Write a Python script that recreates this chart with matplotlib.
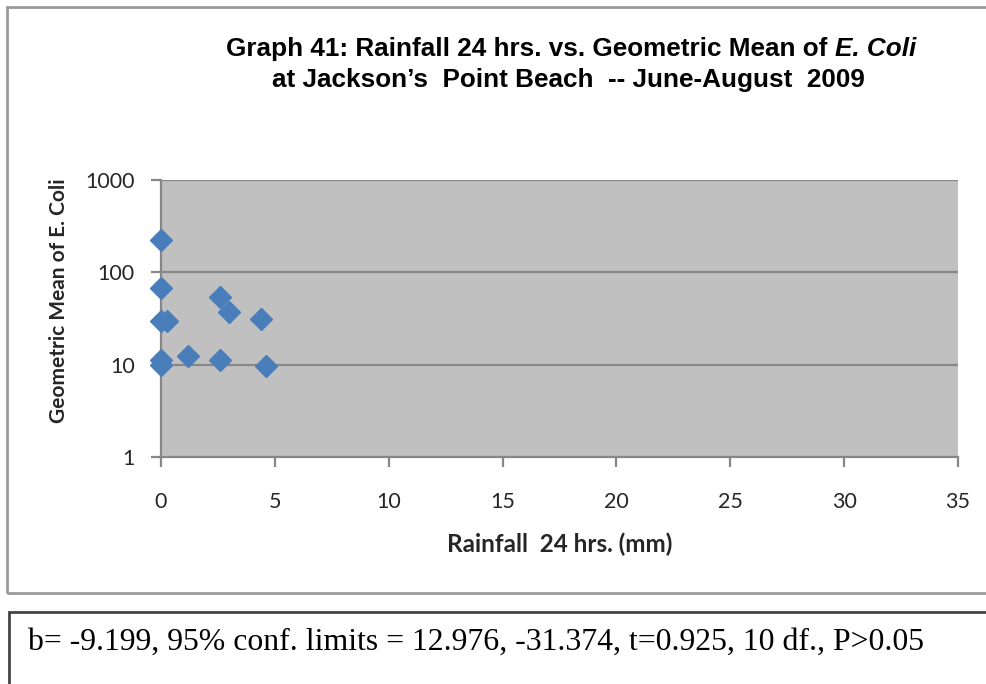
import numpy as np
import matplotlib.pyplot as plt
from matplotlib.patches import Rectangle

# rainfall in last 24 hrs (mm) and geometric mean of E. coli
rainfall = [0.0, 0.0, 0.0, 0.25, 0.0, 0.0, 1.2, 2.6, 3.0, 4.4, 2.6, 4.6]
ecoli = [222, 67, 30, 30, 11.2, 9.8, 12.4, 54, 37, 31, 11.2, 9.7]

x_ticks = [0, 5, 10, 15, 20, 25, 30, 35]
y_ticks = [1, 10, 100, 1000]
y_tick_labels = ['1', '10', '100', '1000']

title_1a = 'Graph 41: Rainfall 24 hrs. vs. Geometric Mean of '
title_1b = 'E. Coli'
title_2 = 'at Jackson\u2019s  Point Beach  -- June-August  2009'
stats_text = 'b= -9.199, 95% conf. limits = 12.976, -31.374, t=0.925, 10 df., P>0.05'

W, H = 987, 684
fig = plt.figure(figsize=(W / 100, H / 100), dpi=100)

# chart frame and stats box
fig.patches.append(Rectangle((7 / W, 1 - 593 / H), (W - 7) / W + 0.01, (593 - 7) / H,
                             transform=fig.transFigure, fill=False, edgecolor='#9a9a9a', lw=2))
fig.patches.append(Rectangle((9 / W, -0.01), 1.0, (H - 612) / H + 0.01,
                             transform=fig.transFigure, fill=False, edgecolor='#444444', lw=2))

ax = fig.add_axes([161 / W, 1 - 457 / H, (958 - 161) / W, (457 - 180) / H])
ax.set_facecolor('#c0c0c0')
ax.set_yscale('log')
ax.set_xlim(0, 35)
ax.set_ylim(1, 1000)

for yv in [10, 100, 1000]:
    ax.axhline(yv, color='#878787', lw=1.6, zorder=1)

ax.plot(rainfall, ecoli, linestyle='none', marker='D', ms=11,
        color='#4a7ebb', markeredgecolor='#4a7ebb', zorder=3, clip_on=False)

for side in ['top', 'right']:
    ax.spines[side].set_visible(False)
for side in ['left', 'bottom']:
    ax.spines[side].set_color('#878787')
    ax.spines[side].set_linewidth(1.6)

ax.set_xticks(x_ticks)
ax.set_yticks(y_ticks)
ax.set_yticklabels(y_tick_labels)
ax.yaxis.set_minor_locator(plt.NullLocator())
ax.tick_params(axis='both', direction='out', length=7, width=1.6, color='#878787',
               labelsize=15.5, labelcolor='#262626')
ax.tick_params(axis='x', pad=18)
ax.tick_params(axis='y', pad=12)
for lab in ax.get_xticklabels() + ax.get_yticklabels():
    lab.set_family('Lato')

ax.set_xlabel('Rainfall  24 hrs. (mm)', fontsize=17.5, fontweight='bold',
              family='Lato', color='#262626', labelpad=15)
ax.set_ylabel('Geometric Mean of E. Coli', fontsize=15, fontweight='bold',
              family='Lato', color='#262626')
ax.yaxis.set_label_coords(-0.116, 0.565)

# title, line 1 has an italic part so it is laid out in two pieces
title_font = dict(fontsize=18.8, fontweight='bold', family=['Liberation Sans', 'DejaVu Sans'])
renderer = fig.canvas.get_renderer()
ta = fig.text(0, 1 - 49 / H, title_1a, ha='left', va='center', **title_font)
tb = fig.text(0, 1 - 49 / H, title_1b, ha='left', va='center', style='italic', **title_font)
wa = ta.get_window_extent(renderer).width
wb = tb.get_window_extent(renderer).width
x0 = 571 - (wa + wb) / 2
ta.set_x(x0 / W)
tb.set_x((x0 + wa) / W)
fig.text(568 / W, 1 - 80 / H, title_2, ha='center', va='center', **title_font)

fig.text(28 / W, 1 - 642 / H, stats_text, ha='left', va='center', fontsize=22.9,
         family=['Liberation Serif', 'DejaVu Serif'])

fig.savefig('out.png', dpi=100)
